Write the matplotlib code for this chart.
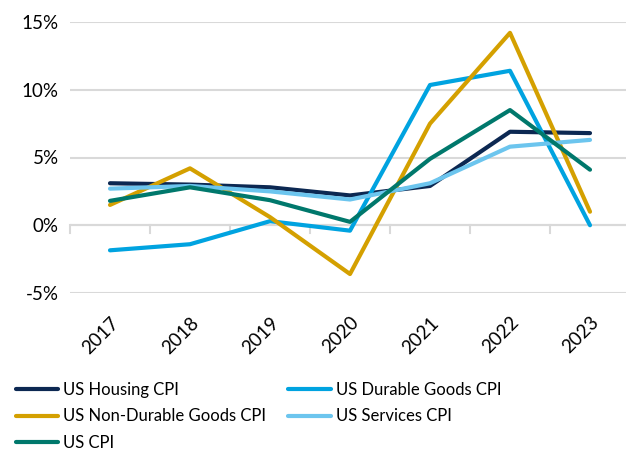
import matplotlib
matplotlib.use("Agg")
import matplotlib.pyplot as plt
from matplotlib.ticker import FuncFormatter

years = ["2017", "2018", "2019", "2020", "2021", "2022", "2023"]
housing = [3.1, 3.0, 2.8, 2.2, 2.9, 6.9, 6.8]
durable = [-1.85, -1.4, 0.3, -0.4, 10.35, 11.4, 0.0]
nondurable = [1.5, 4.2, 0.6, -3.6, 7.5, 14.2, 1.0]
services = [2.7, 2.9, 2.5, 1.9, 3.1, 5.8, 6.3]
cpi = [1.8, 2.8, 1.85, 0.25, 4.9, 8.5, 4.1]

names = ["US Housing CPI", "US Durable Goods CPI", "US Non-Durable Goods CPI",
         "US Services CPI", "US CPI"]
colors = ["#0C2852", "#00A3E0", "#D4A000", "#6CC5EE", "#00786C"]
series = [housing, durable, nondurable, services, cpi]

plt.rcParams['font.family'] = ['Lato', 'DejaVu Sans']

fig = plt.figure(figsize=(6.26, 4.5), dpi=100)
W, H = 626, 450
ax = fig.add_axes([70 / W, 1 - 293 / H, 560 / W, (293 - 22) / H])

x = list(range(len(years)))
lines = {}
for name, vals, c in zip(names, series, colors):
    ln, = ax.plot(x, vals, color=c, lw=3.0, solid_capstyle='round', zorder=3)
    lines[name] = ln

ax.set_xlim(-0.5, len(years) - 0.5)
ax.set_ylim(-5, 15)
ax.set_yticks([-5, 0, 5, 10, 15])
ax.yaxis.set_major_formatter(FuncFormatter(lambda v, p: f"{int(v)}%"))
ax.grid(axis='y', color='#D9D9D9', lw=1.5, zorder=0)
ax.tick_params(axis='y', length=0, labelsize=13.5, pad=8)
for s in ax.spines.values():
    s.set_visible(False)

# x axis at 0 with ticks between categories
ax.axhline(0, color='#D9D9D9', lw=1.5, zorder=1)
ax.set_xticks(x)
ax.set_xticklabels(years, rotation=45, fontsize=13.5, ha='right', rotation_mode='anchor')
ax.tick_params(axis='x', length=0, pad=15)
for b in [i - 0.5 for i in range(len(years) + 1)]:
    ax.plot([b, b], [0, -0.55], color='#D9D9D9', lw=1.5, zorder=1, clip_on=False)

order = ["US Housing CPI", "US Non-Durable Goods CPI", "US CPI",
         "US Durable Goods CPI", "US Services CPI"]
leg = fig.legend([lines[n] for n in order], order, ncol=2,
                 loc='upper left', bbox_to_anchor=(16 / W, 1 - 382 / H),
                 frameon=False, fontsize=12, handlelength=2.55,
                 handletextpad=0.3, columnspacing=1.3, labelspacing=0.62,
                 borderaxespad=0, borderpad=0)

fig.savefig("out.png", dpi=100)
